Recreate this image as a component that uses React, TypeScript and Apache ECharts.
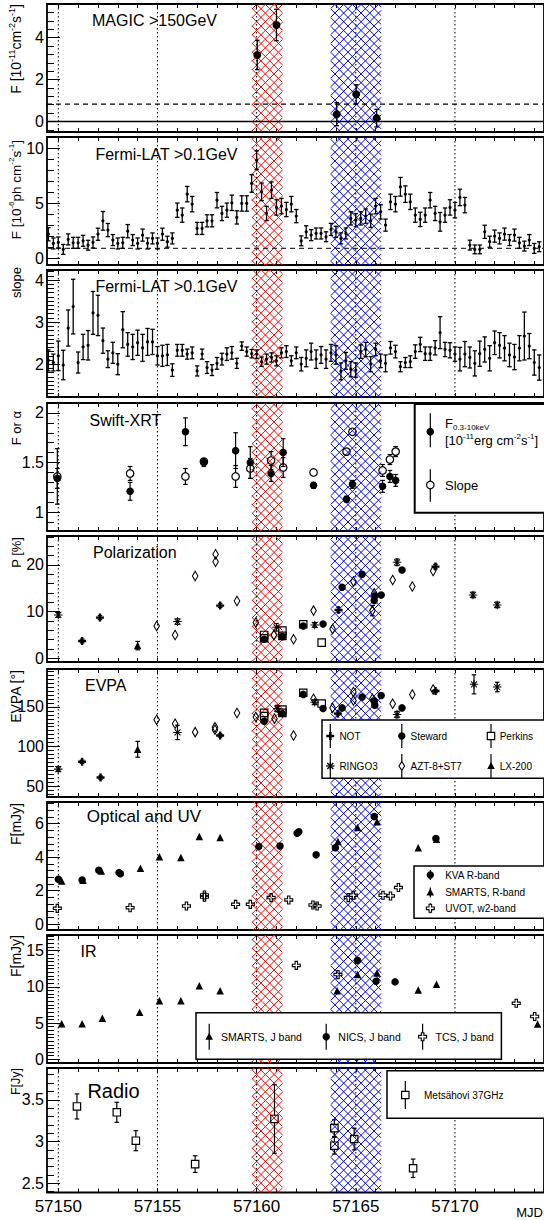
import React, { useEffect, useRef } from "react";
import * as echarts from "echarts";

// ---------------- axes / layout data ----------------
const X_MIN = 57149.43;
const X_MAX = 57174.49;
const X_LABELS = [57150, 57155, 57160, 57165, 57170];
const DAY_TICKS = [57150, 57151, 57152, 57153, 57154, 57155, 57156, 57157, 57158, 57159, 57160, 57161, 57162, 57163, 57164, 57165, 57166, 57167, 57168, 57169, 57170, 57171, 57172, 57173, 57174];
const DOTTED_DAYS = [57150, 57155, 57160, 57165, 57170];
const RED_BAND = [57159.76, 57161.3];
const BLUE_BAND = [57163.74, 57166.28];

const Y_RANGES = [[-0.5, 5.6], [-0.6, 11.05], [1.22, 4.24], [0.81, 2.1], [-0.8, 26.2], [36.5, 197.7], [-0.34, 7.29], [-0.5, 17.14], [2.39, 3.88]];
const Y_MAJOR = [[0, 2, 4], [0, 5, 10], [2, 3, 4], [1, 1.5, 2], [0, 10, 20], [50, 100, 150], [0, 2, 4, 6], [0, 5, 10, 15], [2.5, 3, 3.5]];
const Y_MINOR_STEP = [0.4, 1, 0.1, 0.1, 2, 5, 0.4, 0.5, 0.1];

const PANEL_TITLES = ["MAGIC >150GeV", "Fermi-LAT >0.1GeV", "Fermi-LAT >0.1GeV", "Swift-XRT", "Polarization", "EVPA", "Optical and UV", "IR", "Radio"];

// ---------------- MAGIC ----------------
const MAGIC_T = [57160.03, 57161.0, 57164.04, 57165.02, 57166.05];
const MAGIC_F = [3.17, 4.6, 0.35, 1.3, 0.16];
const MAGIC_E = [0.7, 0.75, 0.55, 0.45, 0.42];
const MAGIC_MEAN = 0.83;

// ---------------- Fermi-LAT ----------------
const FERMI_T = [57149.5, 57149.75, 57150, 57150.25, 57150.5, 57150.75, 57151, 57151.25, 57151.5, 57151.75, 57152, 57152.25, 57152.5, 57152.75, 57153, 57153.25, 57153.5, 57153.75, 57154, 57154.25, 57154.5, 57154.75, 57155, 57155.25, 57155.5, 57155.75, 57156, 57156.25, 57156.5, 57156.75, 57157, 57157.25, 57157.5, 57157.75, 57158, 57158.25, 57158.5, 57158.75, 57159, 57159.25, 57159.5, 57159.75, 57160, 57160.25, 57160.5, 57160.75, 57161, 57161.25, 57161.5, 57161.75, 57162, 57162.25, 57162.5, 57162.75, 57163, 57163.25, 57163.5, 57163.75, 57164, 57164.25, 57164.5, 57164.75, 57165, 57165.25, 57165.5, 57165.75, 57166, 57166.25, 57166.5, 57166.75, 57167, 57167.25, 57167.5, 57167.75, 57168, 57168.25, 57168.5, 57168.75, 57169, 57169.25, 57169.5, 57169.75, 57170, 57170.25, 57170.5, 57170.75, 57171, 57171.25, 57171.5, 57171.75, 57172, 57172.25, 57172.5, 57172.75, 57173, 57173.25, 57173.5, 57173.75, 57174, 57174.25];
const FERMI_F = [2.2, 1.36, 1.45, 0.82, 1.73, 1.42, 1.42, 1.6, 1.2, 1.45,
  2.2, 3.42, 2.58, 1.67, 1.36, 1.42, 2.48, 1.67, 1.36, 2.12,
  1.36, 1.82, 1.36, 2.2, 1.52, 1.82, 4.39, 3.94, 5.85, 4.94,
  2.73, 2.73, 3.42, 3.42, 5.3, 4.09, 4.39, 5.06, 3.73, 5.0,
  5.0, 6.82, 8.94, 6.06, 4.09, 6.21, 4.64, 4.76, 4.45, 4.94,
  3.85, 1.6, 2.42, 2.12, 2.27, 2.27, 1.97, 2.64, 2.42, 1.82,
  2.27, 3.64, 3.48, 3.64, 3.85, 3.42, 4.76, 4.24, 3.03, 5.15,
  4.94, 6.52, 5.85, 5.15, 3.94, 3.55, 3.94, 5.3, 4.09, 3.33,
  3.94, 4.64, 4.39, 5.55, 4.85, 1.21, 0.82, 0.82, 2.42, 1.52,
  2.03, 1.82, 2.21, 1.67, 2.12, 1.42, 1.12, 1.67, 0.91, 1.06];
const FERMI_FE = [0.6, 0.5, 0.5, 0.45, 0.5, 0.5, 0.5, 0.5, 0.45, 0.5,
  0.55, 0.85, 0.6, 0.5, 0.5, 0.5, 0.6, 0.5, 0.5, 0.55,
  0.5, 0.5, 0.5, 0.55, 0.5, 0.5, 0.65, 0.65, 0.7, 0.7,
  0.55, 0.55, 0.55, 0.55, 0.7, 0.65, 0.65, 0.7, 0.6, 0.7,
  0.7, 0.8, 0.85, 0.8, 0.65, 0.75, 0.7, 0.7, 0.65, 0.7,
  0.6, 0.45, 0.55, 0.5, 0.5, 0.5, 0.45, 0.55, 0.5, 0.5,
  0.5, 0.6, 0.6, 0.6, 0.65, 0.6, 0.7, 0.65, 0.55, 0.7,
  0.7, 0.85, 0.75, 0.7, 0.65, 0.65, 0.65, 0.7, 0.65, 0.85,
  0.65, 0.7, 0.7, 0.75, 0.7, 0.45, 0.4, 0.4, 0.6, 0.5,
  0.55, 0.5, 0.55, 0.5, 0.55, 0.5, 0.45, 0.5, 0.45, 0.45];
const FERMI_MEAN = 0.91;
const FERMI_S = [2.09, 2.04, 2.2, 1.98, 2.86, 3.37, 2.04, 2.41, 2.45, 3.22,
  3.16, 2.56, 2.12, 2.27, 2.0, 2.82, 2.47, 2.41, 2.51, 2.39,
  2.53, 2.53, 2.2, 2.2, 2.22, 1.86, 2.33, 2.33, 2.24, 2.27,
  1.84, 2.24, 1.92, 1.86, 2.02, 2.12, 2.24, 2.27, 2.02, 2.43,
  2.3, 2.25, 2.24, 2.06, 2.12, 2.16, 2.08, 2.27, 2.3, 2.08,
  2.27, 2.0, 2.14, 2.3, 2.12, 2.22, 2.12, 2.27, 2.22, 1.83,
  2.08, 1.88, 1.86, 2.3, 2.35, 2.0, 2.35, 2.08, 2.02, 2.39,
  2.3, 1.94, 2.04, 2.06, 2.3, 2.47, 2.25, 2.25, 2.39, 2.75,
  2.35, 2.33, 2.24, 2.12, 2.24, 2.16, 2.02, 2.25, 2.35, 2.14,
  2.51, 2.45, 2.38, 2.22, 2.17, 2.38, 2.67, 2.43, 2.04, 1.92];
const FERMI_SE = [0.25, 0.2, 0.35, 0.35, 0.43, 0.65, 0.25, 0.3, 0.35, 0.51,
  0.48, 0.3, 0.2, 0.25, 0.25, 0.43, 0.28, 0.3, 0.3, 0.32,
  0.32, 0.3, 0.22, 0.25, 0.25, 0.15, 0.14, 0.14, 0.12, 0.14,
  0.12, 0.12, 0.14, 0.13, 0.14, 0.14, 0.15, 0.15, 0.12, 0.1,
  0.11, 0.1, 0.1, 0.11, 0.12, 0.11, 0.12, 0.12, 0.14, 0.12,
  0.14, 0.16, 0.2, 0.2, 0.22, 0.2, 0.22, 0.2, 0.22, 0.2,
  0.2, 0.18, 0.17, 0.16, 0.17, 0.18, 0.15, 0.16, 0.2, 0.15,
  0.15, 0.12, 0.12, 0.14, 0.16, 0.17, 0.16, 0.16, 0.17, 0.38,
  0.17, 0.18, 0.17, 0.28, 0.3, 0.25, 0.3, 0.3, 0.3, 0.3,
  0.28, 0.3, 0.3, 0.28, 0.3, 0.3, 0.57, 0.3, 0.3, 0.3];

// ---------------- Swift-XRT ----------------
const SWIFT_T = [57149.95, 57153.62, 57156.41, 57157.34, 57158.94, 57159.68, 57160.73, 57161.34, 57162.87, 57164.53, 57164.83, 57166.35, 57166.72, 57167.01];
const SWIFT_F = [1.34, 1.21, 1.81, 1.5, 1.62, 1.5, 1.39, 1.6, 1.27, 1.13, 1.28, 1.26, 1.36, 1.32];
const SWIFT_FE = [0.1, 0.09, 0.14, 0.04, 0.18, 0.16, 0.08, 0.14, 0.03, 0.03, 0.04, 0.06, 0.06, 0.06];
const SWIFT_S = [1.36, 1.39, 1.36, 1.51, 1.36, 1.44, 1.52, 1.45, 1.4, 1.61, 1.81, 1.42, 1.53, 1.61];
const SWIFT_SE = [0.28, 0.07, 0.08, 0.03, 0.11, 0.1, 0.09, 0.1, 0.03, 0.04, 0.04, 0.06, 0.05, 0.05];

// ---------------- Polarization degree ----------------
const POL_NOT_T = [57151.2, 57152.1, 57158.16, 57164.13, 57169.02];
const POL_NOT_P = [3.71, 8.71, 11.29, 10.36, 19.64];
const POL_NOT_E = [0.4, 0.4, 0.4, 0.5, 0.5];
const POL_STEW_T = [57160.38, 57161.3, 57162.35, 57163.35, 57164.31, 57165.32, 57165.93, 57165.96, 57166.28, 57167.33];
const POL_STEW_P = [4.07, 4.64, 6.93, 7.36, 15.21, 18.0, 12.36, 13.36, 13.57, 18.93];
const POL_STEW_E = [0.3, 0.3, 0.3, 0.3, 0.3, 0.3, 0.4, 0.4, 0.3, 0.3];
const POL_PERK_T = [57160.38, 57160.38, 57161.3, 57161.3, 57162.35, 57163.28];
const POL_PERK_P = [5.0, 4.29, 5.93, 4.79, 7.29, 3.36];
const POL_PERK_E = [0.3, 0.3, 0.3, 0.3, 0.3, 0.3];
const POL_RING_T = [57150.0, 57156.01, 57161.0, 57162.93, 57167.08, 57170.91, 57172.13];
const POL_RING_P = [9.29, 7.86, 6.64, 7.14, 20.57, 13.57, 11.43];
const POL_RING_E = [0.5, 0.6, 0.8, 0.5, 0.7, 0.6, 0.6];
const POL_AZT_T = [57154.96, 57155.89, 57156.9, 57157.93, 57157.93, 57159.01, 57159.96, 57160.87, 57161.86, 57162.87, 57163.83, 57164.88, 57165.84, 57165.93, 57166.86, 57167.85, 57168.9];
const POL_AZT_P = [6.93, 5.0, 17.64, 22.3, 20.7, 12.29, 7.64, 5.0, 4.07, 10.21, 6.29, 16.43, 10.21, 13.93, 16.79, 15.36, 18.71];
const POL_AZT_E = [0.5, 0.5, 0.5, 0.6, 0.6, 0.5, 0.5, 0.5, 0.5, 0.5, 0.5, 0.5, 1.1, 0.6, 0.5, 0.5, 0.5];
const POL_LX_T = [57154.0];
const POL_LX_P = [2.71];
const POL_LX_E = [0.9];

// ---------------- EVPA ----------------
const EV_NOT_T = [57151.2, 57152.13, 57158.16, 57164.1, 57169.02];
const EV_NOT_A = [80.9, 61.0, 114.0, 141.5, 169.9];
const EV_NOT_E = [2, 2, 2, 2, 2];
const EV_STEW_T = [57160.38, 57161.3, 57162.35, 57163.35, 57164.31, 57165.32, 57165.93, 57165.96, 57166.28, 57167.33];
const EV_STEW_A = [131.8, 141.5, 165.7, 147.9, 148.7, 162.3, 157.2, 152.1, 164.4, 148.7];
const EV_STEW_E = [1, 1, 1, 1, 1, 1, 1, 1, 1, 1];
const EV_PERK_T = [57160.38, 57160.38, 57161.3, 57161.3, 57162.35, 57163.28];
const EV_PERK_A = [142.4, 138.3, 146.6, 142.4, 167.8, 154.2];
const EV_PERK_E = [2, 2, 2, 2, 2, 2];
const EV_RING_T = [57150.0, 57156.01, 57161.04, 57162.93, 57167.08, 57170.96, 57172.13];
const EV_RING_A = [71.6, 117.8, 147.9, 155.9, 140.3, 178.4, 175.0];
const EV_RING_E = [3, 9, 4, 3, 4, 12, 6];
const EV_AZT_T = [57154.96, 57155.89, 57156.9, 57157.9, 57157.9, 57159.01, 57159.96, 57160.9, 57161.86, 57162.87, 57163.83, 57164.88, 57164.88, 57165.84, 57166.86, 57167.85, 57168.9];
const EV_AZT_A = [133.9, 128.8, 118.2, 124.2, 121.2, 142.4, 137.3, 135.2, 114.0, 160.2, 148.7, 168.6, 158.1, 160.2, 153.8, 165.7, 172.0];
const EV_AZT_E = [2, 2, 2, 2, 2, 2, 2, 2, 2, 2, 2, 2, 2, 2, 2, 2, 2];
const EV_LX_T = [57154.0];
const EV_LX_A = [96.6];
const EV_LX_E = [10];

// ---------------- Optical / UV ----------------
const KVA_T = [57150.0, 57151.2, 57152.04, 57153.06, 57153.13, 57160.11, 57161.18, 57162.04, 57162.13, 57163.0, 57163.97, 57165.93, 57169.04];
const KVA_F = [2.68, 2.64, 3.22, 3.08, 3.02, 4.63, 4.67, 5.43, 5.51, 4.14, 4.57, 6.42, 5.11];
const SMR_T = [57150.17, 57151.25, 57152.17, 57154.14, 57155.1, 57156.18, 57157.11, 57158.16, 57164.1, 57165.09, 57166.07, 57168.15, 57169.07];
const SMR_F = [2.58, 2.62, 3.18, 3.34, 4.02, 3.98, 5.23, 5.17, 4.93, 5.77, 6.12, 4.57, 5.07];
const UVOT_T = [57149.95, 57153.62, 57156.46, 57157.37, 57157.37, 57158.94, 57159.68, 57160.73, 57161.62, 57162.84, 57163.05, 57164.62, 57164.88, 57166.37, 57166.75, 57167.15];
const UVOT_F = [0.95, 0.99, 1.09, 1.62, 1.75, 1.19, 1.19, 1.59, 1.45, 1.15, 1.09, 1.59, 1.73, 1.73, 1.69, 2.19];
const UVOT_E = [0.08, 0.08, 0.08, 0.1, 0.1, 0.08, 0.08, 0.09, 0.08, 0.08, 0.08, 0.09, 0.09, 0.09, 0.09, 0.1];

// ---------------- IR ----------------
const SMJ_T = [57150.17, 57151.2, 57152.22, 57154.1, 57155.1, 57156.18, 57157.11, 57158.16, 57164.06, 57165.09, 57166.07, 57168.15, 57169.07, 57174.17];
const SMJ_F = [4.91, 4.91, 5.68, 6.5, 8.09, 8.09, 10.14, 9.45, 9.45, 11.68, 11.91, 9.55, 10.36, 4.86];
const NICS_T = [57165.09, 57166.02, 57166.98];
const NICS_F = [13.64, 10.77, 10.68];
const TCS_T = [57162.0, 57164.1, 57173.09, 57174.02];
const TCS_F = [12.95, 11.68, 7.73, 5.91];
const TCS_E = [0.6, 0.6, 0.6, 0.6];

// ---------------- Radio ----------------
const RADIO_T = [57150.94, 57152.95, 57153.91, 57156.9, 57160.9, 57163.92, 57163.92, 57164.92, 57167.89];
const RADIO_F = [3.42, 3.35, 3.01, 2.73, 3.27, 3.16, 2.95, 3.03, 2.68];
const RADIO_E = [0.15, 0.12, 0.12, 0.1, 0.41, 0.1, 0.1, 0.13, 0.11];

// ---------------- styling ----------------
const FONT = "Liberation Sans, Arial, Helvetica, sans-serif";
const GRID_LEFT = 47;
const GRID_WIDTH = 498;
const GRID_TOP = [4, 137, 270, 403, 536, 669, 802, 935, 1068];
const GRID_H = [128, 128, 127, 128, 126, 128, 128, 128, 124.5];
const BAND_COLORS = ["#ff0000", "#0000ff"];
const HATCH = 8.7;

const SYM_PLUS = "path://M7,0H13V7H20V13H13V20H7V13H0V7H7Z";
const SYM_STAR = "path://M0,8.8H20V11.2H0Z M8.8,0H11.2V20H8.8Z M2.15,3.85L3.85,2.15L17.85,16.15L16.15,17.85Z M16.15,2.15L17.85,3.85L3.85,17.85L2.15,16.15Z";

function minorTicks(min: number, max: number, step: number) {
  const out: number[] = [];
  const k0 = Math.ceil(min / step - 1e-9);
  const k1 = Math.floor(max / step + 1e-9);
  for (let k = k0; k <= k1; k++) {
    const v = +(k * step).toFixed(6);
    if (v > min + 1e-6 && v < max - 1e-6) out.push(v);
  }
  return out;
}

function sc(gi: number, t: number[], v: number[], symbol: any, size: any, filled: boolean, lw = 1.2) {
  return {
    type: "scatter",
    xAxisIndex: 2 * gi,
    yAxisIndex: 2 * gi,
    z: 5,
    silent: true,
    symbol,
    symbolSize: size,
    itemStyle: filled
      ? { color: "#000", borderWidth: 0, opacity: 1 }
      : { color: "rgba(255,255,255,0)", borderColor: "#000", borderWidth: lw, opacity: 1 },
    data: t.map((x, i) => [x, v[i]]),
  };
}

function eb(gi: number, t: number[], v: number[], e: number[], gap: number, cap = 2.3, lw = 1.2) {
  return {
    type: "custom",
    xAxisIndex: 2 * gi,
    yAxisIndex: 2 * gi,
    z: 4,
    silent: true,
    data: t.map((x, i) => [x, v[i], e[i]]),
    renderItem: (params: any, api: any) => {
      const x = api.value(0);
      const y = api.value(1);
      const er = api.value(2);
      const c = api.coord([x, y]);
      const yt = api.coord([x, y + er])[1];
      const yb = api.coord([x, y - er])[1];
      const st = { stroke: "#000", lineWidth: lw };
      const ch: any[] = [];
      if (c[1] - yt > gap + 0.6) {
        ch.push({ type: "line", shape: { x1: c[0], y1: yt, x2: c[0], y2: c[1] - gap }, style: st });
        ch.push({ type: "line", shape: { x1: c[0], y1: c[1] + gap, x2: c[0], y2: yb }, style: st });
        if (cap > 0) {
          ch.push({ type: "line", shape: { x1: c[0] - cap, y1: yt, x2: c[0] + cap, y2: yt }, style: st });
          ch.push({ type: "line", shape: { x1: c[0] - cap, y1: yb, x2: c[0] + cap, y2: yb }, style: st });
        }
      }
      return { type: "group", children: ch };
    },
  };
}

function bandSeries(gi: number) {
  const y0v = Y_RANGES[gi][0];
  return {
    type: "custom",
    xAxisIndex: 2 * gi,
    yAxisIndex: 2 * gi,
    z: 1,
    silent: true,
    data: [[RED_BAND[0], RED_BAND[1], y0v], [BLUE_BAND[0], BLUE_BAND[1], y0v]],
    encode: { x: [0, 1], y: 2 },
    renderItem: (params: any, api: any) => {
      const cs = params.coordSys;
      const X0 = api.coord([api.value(0), y0v])[0];
      const X1 = api.coord([api.value(1), y0v])[0];
      const Y0 = cs.y;
      const Y1 = cs.y + cs.height;
      const style = { stroke: BAND_COLORS[params.dataIndex], lineWidth: 1 };
      const ch: any[] = [];
      for (let c = Math.floor((X0 - Y1) / HATCH) * HATCH; c <= X1 - Y0; c += HATCH) {
        const ya = Math.max(Y0, X0 - c);
        const yb = Math.min(Y1, X1 - c);
        if (yb > ya) ch.push({ type: "line", shape: { x1: ya + c, y1: ya, x2: yb + c, y2: yb }, style });
      }
      for (let c = Math.floor((X0 + Y0) / HATCH) * HATCH; c <= X1 + Y1; c += HATCH) {
        const ya = Math.max(Y0, c - X1);
        const yb = Math.min(Y1, c - X0);
        if (yb > ya) ch.push({ type: "line", shape: { x1: c - ya, y1: ya, x2: c - yb, y2: yb }, style });
      }
      return { type: "group", children: ch };
    },
  };
}

function dottedSeries(gi: number) {
  const y0v = Y_RANGES[gi][0];
  return {
    type: "custom",
    xAxisIndex: 2 * gi,
    yAxisIndex: 2 * gi,
    z: 2,
    silent: true,
    data: DOTTED_DAYS.map((d) => [d, y0v]),
    renderItem: (params: any, api: any) => {
      const cs = params.coordSys;
      const x = api.coord([api.value(0), y0v])[0];
      return {
        type: "line",
        shape: { x1: x, y1: cs.y, x2: x, y2: cs.y + cs.height },
        style: { stroke: "#000", lineWidth: 1, lineDash: [1.5, 2.5] },
      };
    },
  };
}

function hline(gi: number, value: number, dashed: boolean, color = "#000", lw = 1.2) {
  return {
    type: "custom",
    xAxisIndex: 2 * gi,
    yAxisIndex: 2 * gi,
    z: 3,
    silent: true,
    data: [[X_MIN, value]],
    renderItem: (params: any, api: any) => {
      const cs = params.coordSys;
      const y = api.coord([api.value(0), api.value(1)])[1];
      return {
        type: "line",
        shape: { x1: cs.x, y1: y, x2: cs.x + cs.width, y2: y },
        style: { stroke: color, lineWidth: lw, lineDash: dashed ? [5, 4] : null },
      };
    },
  };
}

// ---------------- graphic helpers ----------------
const G = (o: any) => ({ z: 60, silent: true, ...o });
const gLine = (x1: number, y1: number, x2: number, y2: number, lw = 1.2) =>
  G({ type: "line", shape: { x1, y1, x2, y2 }, style: { stroke: "#000", lineWidth: lw } });
const gCircle = (x: number, y: number, r: number, filled: boolean) =>
  G({ type: "circle", shape: { cx: x, cy: y, r }, style: filled ? { fill: "#000" } : { fill: "#fff", stroke: "#000", lineWidth: 1.2 } });
const gPoly = (pts: number[][], filled: boolean) =>
  G({ type: "polygon", shape: { points: pts }, style: filled ? { fill: "#000" } : { fill: "#fff", stroke: "#000", lineWidth: 1.1 } });
const gTri = (x: number, y: number) => gPoly([[x, y - 4], [x + 3.8, y + 3], [x - 3.8, y + 3]], true);
const gDiamond = (x: number, y: number) => gPoly([[x, y - 4.5], [x + 2.8, y], [x, y + 4.5], [x - 2.8, y]], false);
const gSquare = (x: number, y: number) =>
  G({ type: "rect", shape: { x: x - 3.7, y: y - 3.7, width: 7.4, height: 7.4 }, style: { fill: "#fff", stroke: "#000", lineWidth: 1.2 } });
const gPlus = (x: number, y: number, filled: boolean) => {
  const h = 4, a = 1.3;
  return gPoly([[x - a, y - h], [x + a, y - h], [x + a, y - a], [x + h, y - a], [x + h, y + a], [x + a, y + a], [x + a, y + h], [x - a, y + h], [x - a, y + a], [x - h, y + a], [x - h, y - a], [x - a, y - a]], filled);
};
const gStar = (x: number, y: number) => {
  const r = 4.2, d = 3.0;
  return [
    gLine(x - r, y, x + r, y, 1.3),
    gLine(x, y - r, x, y + r, 1.3),
    gLine(x - d, y - d, x + d, y + d, 1.3),
    gLine(x - d, y + d, x + d, y - d, 1.3),
  ];
};
const gText = (text: string, x: number, y: number, size: number, extra: any = {}) =>
  G({
    type: "text",
    x,
    y,
    style: {
      text,
      fontSize: size,
      fontFamily: FONT,
      fill: "#000",
      align: "left",
      verticalAlign: "middle",
      textAlign: "left",
      textVerticalAlign: "middle",
      ...extra,
    },
  });
const gBox = (x: number, y: number, w: number, h: number, lw = 1.5) =>
  G({ type: "rect", z: 55, shape: { x, y, width: w, height: h }, style: { fill: "#fff", stroke: "#000", lineWidth: lw } });

const supRich = (size: number) => ({
  m: { fontSize: size, fontFamily: FONT, fill: "#000", lineHeight: size + 4, verticalAlign: "middle" },
  u: { fontSize: Math.round(size * 0.62), fontFamily: FONT, fill: "#000", lineHeight: Math.round(size * 0.62), verticalAlign: "top" },
  d: { fontSize: Math.round(size * 0.62), fontFamily: FONT, fill: "#000", lineHeight: Math.round(size * 0.62), verticalAlign: "bottom" },
});

const yTitle = (text: string, x: number, yTop: number, size: number) =>
  G({
    type: "text",
    x,
    y: yTop,
    rotation: Math.PI / 2,
    style: {
      text,
      rich: supRich(size),
      fontSize: size,
      fontFamily: FONT,
      fill: "#000",
      align: "right",
      verticalAlign: "middle",
      textAlign: "right",
      textVerticalAlign: "middle",
    },
  });

function buildOption() {
  const grid: any[] = [];
  const xAxis: any[] = [];
  const yAxis: any[] = [];
  const series: any[] = [];

  for (let i = 0; i < 9; i++) {
    grid.push({
      left: GRID_LEFT,
      width: GRID_WIDTH,
      top: GRID_TOP[i],
      height: GRID_H[i],
      show: true,
      borderColor: "#000",
      borderWidth: 1.8,
      backgroundColor: "rgba(0,0,0,0)",
      containLabel: false,
    });
    const xBase = {
      type: "value",
      gridIndex: i,
      min: X_MIN,
      max: X_MAX,
      axisLine: { show: false, onZero: false },
      splitLine: { show: false },
      axisTick: { show: true, inside: true, length: 4, customValues: DAY_TICKS, lineStyle: { color: "#000", width: 1 } },
    };
    xAxis.push({
      ...xBase,
      position: "bottom",
      axisLabel:
        i === 8
          ? { show: true, customValues: X_LABELS, formatter: (v: number) => String(Math.round(v)), fontSize: 17, color: "#000", fontFamily: FONT, margin: 5 }
          : { show: false },
    });
    xAxis.push({ ...xBase, position: "top", axisLabel: { show: false } });
    const [mn, mx] = Y_RANGES[i];
    yAxis.push({
      type: "value",
      gridIndex: i,
      min: mn,
      max: mx,
      position: "left",
      axisLine: { show: false, onZero: false },
      splitLine: { show: false },
      axisTick: { show: true, inside: true, length: 13, customValues: Y_MAJOR[i], lineStyle: { color: "#000", width: 1 } },
      axisLabel: { show: true, customValues: Y_MAJOR[i], formatter: (v: number) => String(v), fontSize: 16, color: "#000", fontFamily: FONT, margin: 3 },
    });
    yAxis.push({
      type: "value",
      gridIndex: i,
      min: mn,
      max: mx,
      position: "left",
      axisLine: { show: false, onZero: false },
      splitLine: { show: false },
      axisTick: { show: true, inside: true, length: 7, customValues: minorTicks(mn, mx, Y_MINOR_STEP[i]), lineStyle: { color: "#000", width: 1 } },
      axisLabel: { show: false },
    });
    series.push(bandSeries(i));
    series.push(dottedSeries(i));
  }

  // Panel 0: MAGIC
  series.push(hline(0, 0, false, "#000", 1.4));
  series.push(hline(0, MAGIC_MEAN, true, "#000", 1.2));
  series.push(eb(0, MAGIC_T, MAGIC_F, MAGIC_E, 0, 2.3, 1.3));
  series.push(sc(0, MAGIC_T, MAGIC_F, "circle", 8, true));

  // Panel 1: Fermi flux
  series.push(hline(1, FERMI_MEAN, true, "#333", 1.2));
  series.push(eb(1, FERMI_T, FERMI_F, FERMI_FE, 0, 2.2, 1.3));
  series.push(sc(1, FERMI_T, FERMI_F, "circle", 3.2, true));

  // Panel 2: Fermi slope
  series.push(eb(2, FERMI_T, FERMI_S, FERMI_SE, 0, 2.2, 1.3));
  series.push(sc(2, FERMI_T, FERMI_S, "circle", 3.2, true));

  // Panel 3: Swift
  series.push(eb(3, SWIFT_T, SWIFT_S, SWIFT_SE, 3.8));
  series.push(eb(3, SWIFT_T, SWIFT_F, SWIFT_FE, 0));
  series.push(sc(3, SWIFT_T, SWIFT_S, "circle", 7.5, false));
  series.push(sc(3, SWIFT_T, SWIFT_F, "circle", 7.5, true));

  // Panel 4: Polarization degree
  series.push(eb(4, POL_LX_T, POL_LX_P, POL_LX_E, 0));
  series.push(eb(4, POL_AZT_T, POL_AZT_P, POL_AZT_E, 4.5));
  series.push(eb(4, POL_RING_T, POL_RING_P, POL_RING_E, 0));
  series.push(eb(4, POL_NOT_T, POL_NOT_P, POL_NOT_E, 0));
  series.push(sc(4, POL_AZT_T, POL_AZT_P, "diamond", [5.6, 9.5], false, 1.1));
  series.push(sc(4, POL_PERK_T, POL_PERK_P, "rect", 7.4, false));
  series.push(sc(4, POL_STEW_T, POL_STEW_P, "circle", 7.5, true));
  series.push(sc(4, POL_RING_T, POL_RING_P, SYM_STAR, 8.5, true));
  series.push(sc(4, POL_NOT_T, POL_NOT_P, SYM_PLUS, 8, true));
  series.push(sc(4, POL_LX_T, POL_LX_P, "triangle", 7.5, true));

  // Panel 5: EVPA
  series.push(eb(5, EV_LX_T, EV_LX_A, EV_LX_E, 0));
  series.push(eb(5, EV_RING_T, EV_RING_A, EV_RING_E, 0));
  series.push(eb(5, EV_AZT_T, EV_AZT_A, EV_AZT_E, 4.5));
  series.push(eb(5, EV_NOT_T, EV_NOT_A, EV_NOT_E, 0));
  series.push(sc(5, EV_AZT_T, EV_AZT_A, "diamond", [5.6, 9.5], false, 1.1));
  series.push(sc(5, EV_PERK_T, EV_PERK_A, "rect", 7.4, false));
  series.push(sc(5, EV_STEW_T, EV_STEW_A, "circle", 7.5, true));
  series.push(sc(5, EV_RING_T, EV_RING_A, SYM_STAR, 8.5, true));
  series.push(sc(5, EV_NOT_T, EV_NOT_A, SYM_PLUS, 8, true));
  series.push(sc(5, EV_LX_T, EV_LX_A, "triangle", 7.5, true));

  // Panel 6: Optical / UV
  series.push(eb(6, UVOT_T, UVOT_F, UVOT_E, 4));
  series.push(sc(6, UVOT_T, UVOT_F, SYM_PLUS, 8, false, 1.1));
  series.push(sc(6, KVA_T, KVA_F, "circle", 7.5, true));
  series.push(sc(6, SMR_T, SMR_F, "triangle", 7.5, true));

  // Panel 7: IR
  series.push(eb(7, TCS_T, TCS_F, TCS_E, 4));
  series.push(sc(7, TCS_T, TCS_F, SYM_PLUS, 8, false, 1.1));
  series.push(sc(7, NICS_T, NICS_F, "circle", 7.5, true));
  series.push(sc(7, SMJ_T, SMJ_F, "triangle", 7.5, true));

  // Panel 8: Radio
  series.push(eb(8, RADIO_T, RADIO_F, RADIO_E, 3.7));
  series.push(sc(8, RADIO_T, RADIO_F, "rect", 7.4, false));

  // ---------- graphics: titles, axis titles, legends ----------
  const TITLE_POS = [[92, 20.7, 16], [95.4, 154, 16], [95.4, 286.7, 16], [89.5, 420, 16], [93, 552, 16], [85, 685, 16], [86.8, 816.7, 17], [80.5, 951.7, 16], [87.4, 1090.7, 20]];
  const els: any[] = [];
  PANEL_TITLES.forEach((t, i) => {
    const [x, y, s] = TITLE_POS[i];
    els.push(gText(t, x, y, s));
  });

  els.push(yTitle("{m|F [10}{u|-11}{m|cm}{u|-2}{m|s}{u|-1}{m|]}", 16, 4, 14));
  els.push(yTitle("{m|F [10}{u|-6}{m|ph cm}{u|-2}{m|s}{u|-1}{m|]}", 16, 140, 13.5));
  els.push(yTitle("{m|slope}", 16, 267, 13));
  els.push(yTitle("{m|F or α}", 16, 411, 13));
  els.push(yTitle("{m|P [%]}", 16, 537, 13));
  els.push(yTitle("{m|EVPA [°]}", 16, 670, 14));
  els.push(yTitle("{m|F[mJy]}", 16, 803, 14));
  els.push(yTitle("{m|F[mJy]}", 16, 935, 14));
  els.push(yTitle("{m|F[Jy]}", 16, 1068, 12.5));

  els.push(gText("MJD", 543, 1212, 13, { align: "right", textAlign: "right" }));

  // Swift legend
  els.push(gBox(414.7, 404, 140, 108.7, 2));
  els.push(gLine(430.3, 413.3, 430.3, 447.3));
  els.push(gCircle(430.3, 431.7, 3.8, true));
  els.push(gText("{m|F}{d|0.3-10keV}", 445, 423.3, 13, { rich: supRich(13) }));
  els.push(gText("{m|[10}{u|-11}{m|erg cm}{u|-2}{m|s}{u|-1}{m|]}", 445, 440.5, 13, { rich: supRich(13) }));
  els.push(gLine(430.3, 469.3, 430.3, 481));
  els.push(gLine(430.3, 489, 430.3, 501.7));
  els.push(gCircle(430.3, 485, 3.8, false));
  els.push(gText("Slope", 445, 485, 13));

  // Polarization legend (EVPA panel)
  els.push(gBox(322, 720, 223, 58.3));
  const r1 = 736, r2 = 766, lh = 12;
  const c1 = 330.3, c2 = 401.8, c3 = 491;
  els.push(gLine(c1, r1 - lh, c1, r1 + lh)); els.push(gPlus(c1, r1, true)); els.push(gText("NOT", 339.4, r1, 10));
  els.push(gLine(c2, r1 - lh, c2, r1 + lh)); els.push(gCircle(c2, r1, 3.7, true)); els.push(gText("Steward", 410.5, r1, 10));
  els.push(gLine(c3, r1 - lh, c3, r1 - 3.7)); els.push(gLine(c3, r1 + 3.7, c3, r1 + lh)); els.push(gSquare(c3, r1)); els.push(gText("Perkins", 499.7, r1, 10));
  els.push(gLine(c1, r2 - lh, c1, r2 + lh)); gStar(c1, r2).forEach((e) => els.push(e)); els.push(gText("RINGO3", 339.4, r2, 10));
  els.push(gLine(c2, r2 - lh, c2, r2 - 4.5)); els.push(gLine(c2, r2 + 4.5, c2, r2 + lh)); els.push(gDiamond(c2, r2)); els.push(gText("AZT-8+ST7", 410.5, r2, 10));
  els.push(gLine(c3, r2 - lh, c3, r2 + lh)); els.push(gTri(c3, r2)); els.push(gText("LX-200", 499.7, r2, 10));

  // Optical legend
  els.push(gBox(414, 866, 131, 52.3));
  els.push(gLine(430.3, 870, 430.3, 880)); els.push(gCircle(430.3, 875, 3.7, true)); els.push(gText("KVA R-band", 445.2, 875, 10));
  els.push(gLine(430.3, 887.5, 430.3, 897.5)); els.push(gTri(430.3, 892.5)); els.push(gText("SMARTS, R-band", 445.2, 892.5, 10));
  els.push(gLine(430.3, 903.3, 430.3, 913.3)); els.push(gPlus(430.3, 908.3, false)); els.push(gText("UVOT, w2-band", 445.2, 908.3, 10));

  // IR legend
  const ry = 1036.7;
  els.push(gBox(196, 1012.7, 305.4, 46.6));
  els.push(gLine(209.2, ry - 13, 209.2, ry + 13)); els.push(gTri(209.2, ry)); els.push(gText("SMARTS, J band", 221, ry, 10.5));
  els.push(gLine(326.2, ry - 13, 326.2, ry + 13)); els.push(gCircle(326.2, ry, 3.7, true)); els.push(gText("NICS, J band", 338.3, ry, 10.5));
  els.push(gLine(422.6, ry - 13, 422.6, ry - 4)); els.push(gLine(422.6, ry + 4, 422.6, ry + 13)); els.push(gPlus(422.6, ry, false)); els.push(gText("TCS, J band", 435.5, ry, 10.5));

  // Radio legend
  els.push(gBox(387, 1070.7, 158, 47.6));
  els.push(gLine(405.3, 1081, 405.3, 1091.3)); els.push(gLine(405.3, 1098.7, 405.3, 1109)); els.push(gSquare(405.3, 1095)); els.push(gText("Metsähovi 37GHz", 424, 1095, 10));

  return {
    animation: false,
    backgroundColor: "#fff",
    textStyle: { fontFamily: FONT },
    grid,
    xAxis,
    yAxis,
    series,
    graphic: { elements: els },
  };
}

export default function App() {
  const ref = useRef<HTMLDivElement>(null);
  useEffect(() => {
    if (!ref.current) return;
    const chart = echarts.init(ref.current, null, { renderer: "svg" });
    chart.setOption(buildOption() as any);
    return () => chart.dispose();
  }, []);
  return (
    <div
      ref={ref}
      style={{ position: "absolute", left: 0, top: 0, width: 544, height: 1220, background: "#fff" }}
    />
  );
}
